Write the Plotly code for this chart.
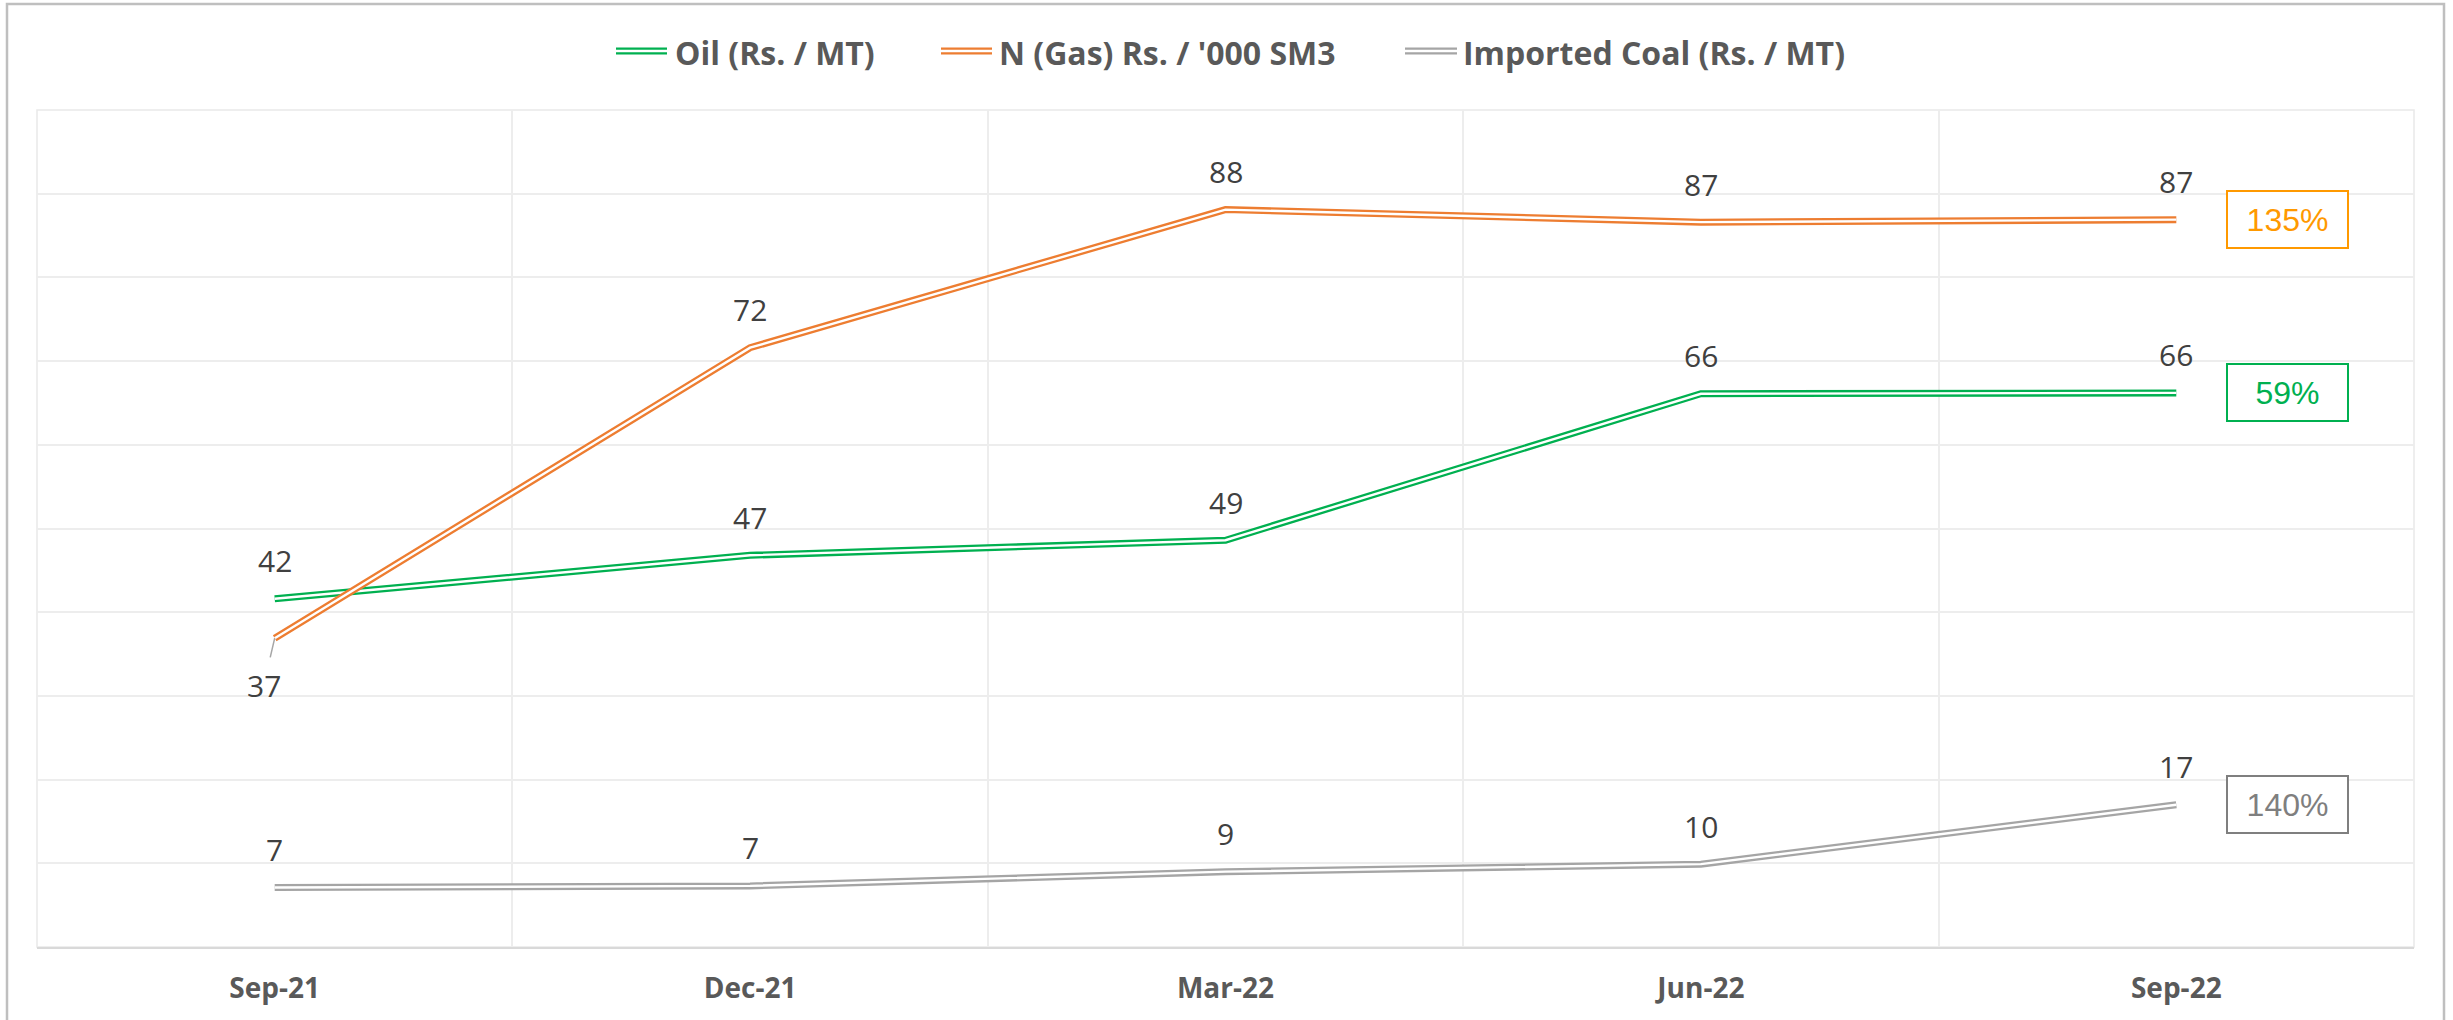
import plotly.graph_objects as go

# ---------------- data ----------------
categories = ["Sep-21", "Dec-21", "Mar-22", "Jun-22", "Sep-22"]
oil = [41.6, 46.8, 48.6, 66.1, 66.2]
gas = [36.9, 71.6, 88.1, 86.6, 86.9]
coal = [7.1, 7.3, 9.0, 9.9, 17.0]
series_names = ["Oil (Rs. / MT)", "N (Gas) Rs. / '000 SM3", "Imported Coal (Rs. / MT)"]
growth_labels = ["59%", "135%", "140%"]

# ---------------- layout geometry ----------------
W, H = 2453, 1020
L, R, T, B = 37, 39, 110, 73
PW, PH = W - L - R, H - T - B


def px(x):
    return (x - L) / PW


def py(y):
    return (H - B - y) / PH


line_colors = ["#00B050", "#ED7D31", "#A5A5A5"]
box_colors = ["#00B050", "#FF9900", "#7F7F7F"]
series_vals = [oil, gas, coal]

fig = go.Figure()

for vals, col in zip(series_vals, line_colors):
    fig.add_trace(go.Scatter(x=categories, y=vals, mode="lines",
                             line=dict(color=col, width=7),
                             showlegend=False, hoverinfo="skip"))
    fig.add_trace(go.Scatter(x=categories, y=vals, mode="lines",
                             line=dict(color="white", width=2.4),
                             showlegend=False, hoverinfo="skip"))

annotations = []
label_font = dict(family="Open Sans", size=30, color="#404040")

# data labels
for si, vals in enumerate(series_vals):
    for ci, v in enumerate(vals):
        txt = f"{v:.0f}"
        if si == 1 and ci == 0:
            annotations.append(dict(x=categories[ci], y=v, text=txt, showarrow=True,
                                    arrowhead=0, arrowwidth=1.5, arrowcolor="#A6A6A6",
                                    ax=-11, ay=47, startstandoff=6, font=label_font))
        else:
            annotations.append(dict(x=categories[ci], y=v, text=txt, showarrow=False,
                                    yshift=38, font=label_font))

# growth boxes
for vals, col, g in zip(series_vals, box_colors, growth_labels):
    annotations.append(dict(x=4.233, y=vals[-1], text=g, showarrow=False,
                            font=dict(family="Liberation Sans", size=32, color=col),
                            bordercolor=col, borderwidth=2, borderpad=0,
                            width=119, height=55, bgcolor="white"))

# manual legend
legend_sym_x = [(616, 667), (941, 992), (1405, 1457)]
legend_txt_x = [673, 997, 1461]
shapes = []
for (x0, x1), tx, name, col in zip(legend_sym_x, legend_txt_x, series_names, line_colors):
    shapes.append(dict(type="line", xref="paper", yref="paper", x0=px(x0), x1=px(x1),
                       y0=py(51), y1=py(51), line=dict(color=col, width=7)))
    shapes.append(dict(type="line", xref="paper", yref="paper", x0=px(x0), x1=px(x1),
                       y0=py(51), y1=py(51), line=dict(color="white", width=2.4)))
    annotations.append(dict(xref="paper", yref="paper", x=px(tx), y=py(52), text=name,
                            xanchor="left", yanchor="middle", showarrow=False,
                            font=dict(family="Open Sans", size=32, color="#595959", weight="bold")))

# plot-area border and outer chart border
shapes.append(dict(type="rect", xref="paper", yref="paper", x0=0, x1=1, y0=0, y1=1,
                   line=dict(color="#E9E9E9", width=1.5), layer="below"))
shapes.append(dict(type="rect", xref="paper", yref="paper", x0=px(7), x1=px(2444),
                   y0=py(1040), y1=py(4), line=dict(color="#BFBFBF", width=2.5)))

fig.update_layout(
    width=W, height=H,
    margin=dict(l=L, r=R, t=T, b=B, pad=0),
    paper_bgcolor="white", plot_bgcolor="white",
    showlegend=False,
    annotations=annotations,
    shapes=shapes,
    xaxis=dict(type="category", categoryorder="array", categoryarray=categories,
               range=[-0.5, 4.5], tickson="boundaries", ticks="",
               showgrid=True, gridcolor="#EDEDED", gridwidth=1.5,
               showline=True, linecolor="#D9D9D9", linewidth=1.5,
               tickfont=dict(family="Open Sans", size=28, color="#595959", weight="bold"),
               ticklabelstandoff=16, fixedrange=True),
    yaxis=dict(range=[0, 100], dtick=10, showticklabels=False, ticks="",
               showgrid=True, gridcolor="#EDEDED", gridwidth=1.5,
               zeroline=False, showline=False, fixedrange=True),
)

fig.write_html("out.html", config={"displayModeBar": False})
